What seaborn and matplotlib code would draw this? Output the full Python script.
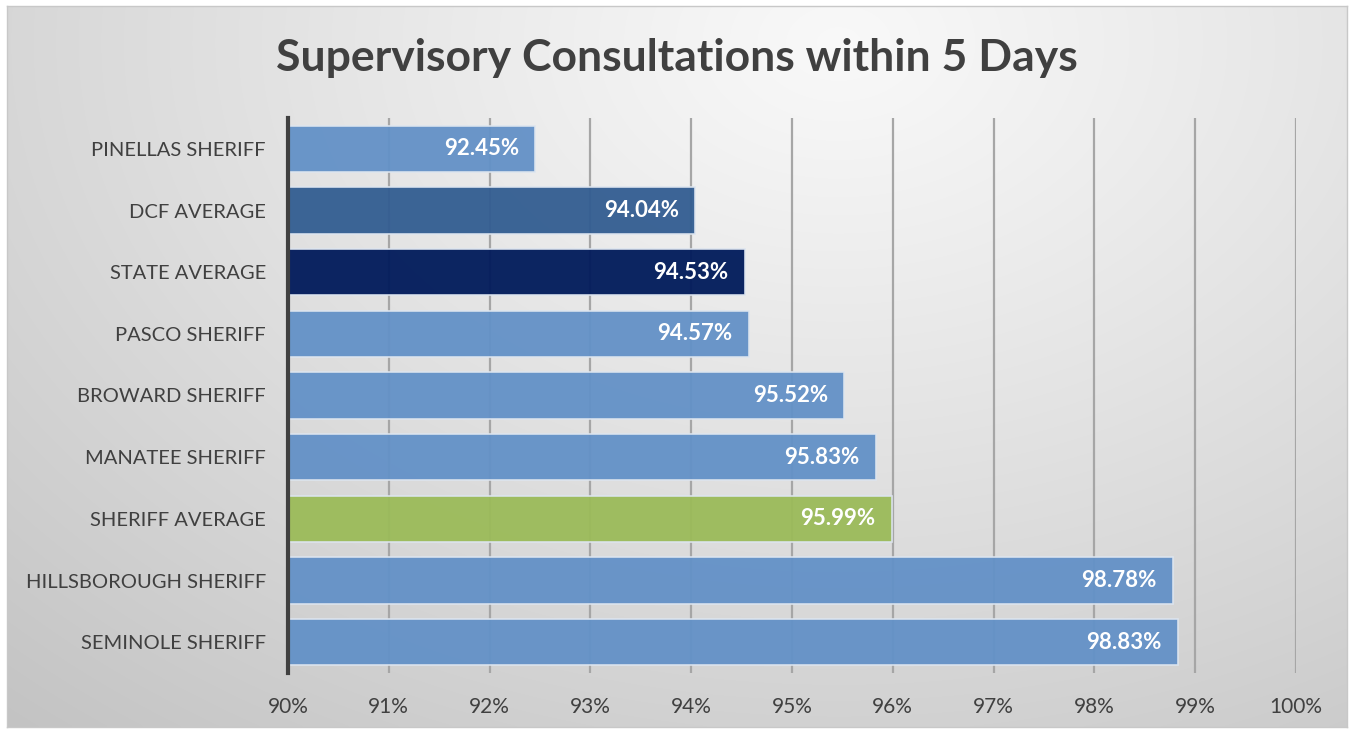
import numpy as np
import pandas as pd
import matplotlib
matplotlib.use("Agg")
import matplotlib.pyplot as plt
import seaborn as sns

categories = ["PINELLAS SHERIFF", "DCF AVERAGE", "STATE AVERAGE", "PASCO SHERIFF",
              "BROWARD SHERIFF", "MANATEE SHERIFF", "SHERIFF AVERAGE",
              "HILLSBOROUGH SHERIFF", "SEMINOLE SHERIFF"]
values = [92.45, 94.04, 94.53, 94.57, 95.52, 95.83, 95.99, 98.78, 98.83]
bar_colors = ["#6391C7", "#325D91", "#001A5A", "#6391C7", "#6391C7", "#6391C7",
              "#9BBB59", "#6391C7", "#6391C7"]
xticks = [90, 91, 92, 93, 94, 95, 96, 97, 98, 99, 100]
xtick_labels = [f"{t}%" for t in xticks]
title = "Supervisory Consultations within 5 Days"

sns.set_theme(style="white")
plt.rcParams['font.family'] = ['Lato', 'DejaVu Sans']

fig = plt.figure(figsize=(13.54, 7.33), dpi=100)
fig.patch.set_facecolor("white")

# gradient background panel
bg = fig.add_axes([7/1354, 6/733, 1340/1354, 721/733])
W, H = 600, 330
yy, xx = np.mgrid[0:H, 0:W]
cx, cy = W*0.62, H*0.05
d = np.sqrt(((xx-cx)/W)**2 + ((yy-cy)/H*0.75)**2)
d = d / d.max()
val = 0.975 - 0.21*np.clip(d, 0, 1)**1.1
img = np.dstack([val, val, val])
bg.imshow(img, aspect="auto", extent=[0, 1, 0, 1], interpolation="bilinear")
bg.set_xlim(0, 1); bg.set_ylim(0, 1)
bg.set_xticks([]); bg.set_yticks([])
for s in bg.spines.values():
    s.set_color("#c8c8c8"); s.set_linewidth(1)
bg.set_zorder(0)

ax = fig.add_axes([288/1354, 1-673/733, (1296-288)/1354, (673-118)/733])
ax.set_zorder(1)
ax.patch.set_alpha(0)

df = pd.DataFrame({"cat": categories, "val": values})
sns.barplot(data=df, y="cat", x="val", hue="cat", palette=bar_colors, orient="h",
            legend=False, width=0.75, ax=ax, edgecolor="#dde5ef", linewidth=1.2,
            alpha=0.95, saturation=1)

ax.set_xlim(90, 100.0)
ax.set_ylim(len(categories)-0.5, -0.5)
ax.set_xticks(xticks)
ax.set_xticklabels(xtick_labels, fontsize=15, color="#404040")
ax.tick_params(axis="x", length=0, pad=17)
ax.tick_params(axis="y", length=0, pad=16)
for lbl in ax.get_yticklabels():
    lbl.set_fontsize(14.5); lbl.set_color("#404040")
ax.set_xlabel(""); ax.set_ylabel("")
ax.xaxis.grid(True, color="#a6a6a6", linewidth=1.6)
ax.set_axisbelow(True)
for s in ["top", "right", "bottom"]:
    ax.spines[s].set_visible(False)
ax.spines["left"].set_color("#404040")
ax.spines["left"].set_linewidth(3)

for i, v in enumerate(values):
    ax.text(v - 0.16, i, f"{v:.2f}%", ha="right", va="center", color="white",
            fontsize=16, fontweight="bold")

fig.text(0.5, 1-58/733, title, ha="center", va="center", fontsize=32,
         fontweight="bold", color="#404040")

fig.savefig("out.png", dpi=100)
